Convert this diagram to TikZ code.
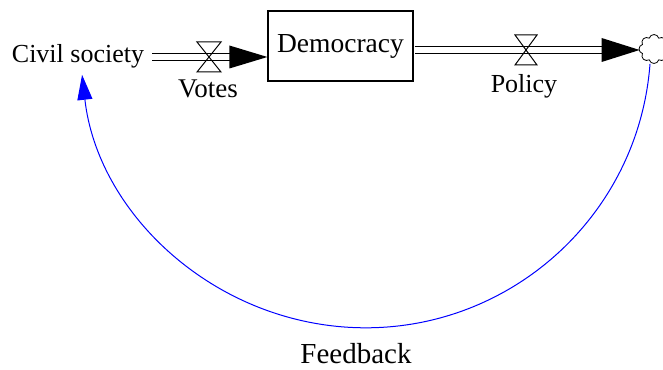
\documentclass[tikz,border=0pt]{standalone}
\usepackage{fontspec}
\setmainfont{Liberation Serif}
\usetikzlibrary{arrows.meta,shapes.symbols}
\begin{document}
\begin{tikzpicture}[x=1pt,y=1pt,
  lbl/.style={font=\fontsize{27}{30}\selectfont, inner sep=0pt},
  stock/.style={draw, line width=1.2pt, minimum width=145pt, minimum height=70pt, inner sep=0pt, font=\fontsize{27.5}{30}\selectfont},
  pipe/.style={draw=black, line width=1pt, double=white, double distance=6.5pt},
  valveshape/.style={draw, line width=1pt},
  flowhead/.style={fill=black},
  sink/.style={cloud, cloud puffs=8, cloud ignores aspect, draw, line width=0.8pt, minimum width=30pt, minimum height=29pt, inner sep=0pt},
  feedback/.style={draw=blue, line width=1pt, -{Triangle[length=25pt,width=15pt]}}
]
\useasboundingbox (0,0) rectangle (663,369);
% nodes
\node[lbl, font=\fontsize{26}{30}\selectfont] (civil) at (78,313) {Civil society};
\node[stock] (dem) at (340.5,323) {Democracy};
\node[sink] (cloud) at (654,320) {};
\coordinate (v1) at (209,312);
\coordinate (v2) at (526,319);
\node[lbl] (votes) at (208,280) {Votes};
\node[lbl, font=\fontsize{26}{30}\selectfont] (policy) at (524,283) {Policy};
\node[lbl, font=\fontsize{29}{32}\selectfont] (fbl) at (356,15) {Feedback};
% inflow: Votes
\draw[pipe] ([xshift=8pt]civil.east |- v1) -- ([xshift=-37pt]dem.west |- v1);
\fill[flowhead] (dem.west |- v1) -- ++(-38,11.5) -- ++(0,-23) -- cycle;
\draw[valveshape] ([shift={(-12,15)}]v1) -- ([shift={(12,15)}]v1) -- ([shift={(-12,-15)}]v1) -- ([shift={(12,-15)}]v1) -- cycle;
% outflow: Policy
\draw[pipe] ([xshift=1pt]dem.east |- v2) -- ([xshift=-36pt]cloud.west |- v2);
\fill[flowhead] ([xshift=1pt]cloud.west |- v2) -- ++(-38,12) -- ++(0,-24) -- cycle;
\draw[valveshape] ([shift={(-11,15)}]v2) -- ([shift={(11,15)}]v2) -- ([shift={(-11,-15)}]v2) -- ([shift={(11,-15)}]v2) -- cycle;
% feedback link
\draw[feedback] ([xshift=-4pt]cloud.south) arc[start angle=-4.3, end angle=-173.5, radius=285.3];
\end{tikzpicture}
\end{document}
